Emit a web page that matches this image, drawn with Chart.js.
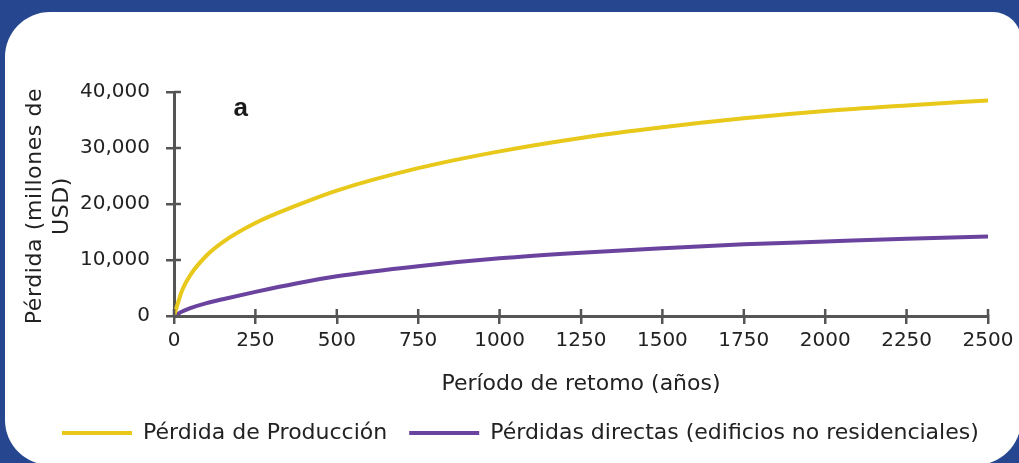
<!DOCTYPE html>
<html>
<head>
<meta charset="utf-8">
<script src="https://cdn.jsdelivr.net/npm/chart.js@4/dist/chart.umd.min.js"></script>
<style>
  html, body { margin: 0; padding: 0; background: #26478f; overflow: hidden; }
  .wrap { position: relative; width: 1019px; height: 463px; }
  .panel { position: absolute; left: 5px; top: 12px; width: 1016px; height: 453px; background: #fff; border-radius: 45px 28px 45px 45px; }
  .chart { position: absolute; left: 0; top: 0; width: 1019px; height: 463px; }
</style>
</head>
<body>
<div class="wrap">
  <div class="panel"></div>
  <div class="chart"><canvas id="c"></canvas></div>
</div>
<script>
// return period (years) and losses (million USD)
const periods = [0, 25, 50, 100, 150, 250, 375, 500, 750, 1000, 1250, 1500, 1750, 2000, 2250, 2500];
const production_loss = [0, 4600, 7300, 10800, 13200, 16600, 19700, 22400, 26400, 29400, 31800, 33700, 35300, 36600, 37600, 38500];
const direct_loss = [0, 800, 1400, 2300, 3000, 4300, 5800, 7100, 8900, 10300, 11300, 12100, 12800, 13300, 13800, 14200];
const series_names = ["Pérdida de Producción", "Pérdidas directas (edificios no residenciales)"];
const x_ticks = [0, 250, 500, 750, 1000, 1250, 1500, 1750, 2000, 2250, 2500];
const y_ticks = [0, 10000, 20000, 30000, 40000];
const x_title = "Período de retomo (años)";
const y_title = ["Pérdida (millones de", "USD)"];
const panel_label = "a";
const panel_label_at = [205, 37000];

const font_family = "'DejaVu Sans', sans-serif";
const text_color = "#222";
const axis_color = "#555";

const to_points = (values) => values.map((v, i) => ({ x: periods[i], y: v }));

// inner half of the crossing tick marks, the y title and the panel letter
const extras = {
  id: "extras",
  afterDraw(chart) {
    const { ctx, chartArea, scales } = chart;
    ctx.save();
    ctx.strokeStyle = axis_color;
    ctx.lineWidth = 2.5;
    x_ticks.forEach((t) => {
      const px = scales.x.getPixelForValue(t);
      ctx.beginPath();
      ctx.moveTo(px, chartArea.bottom);
      ctx.lineTo(px, chartArea.bottom - 7);
      ctx.stroke();
    });
    y_ticks.forEach((t) => {
      const py = scales.y.getPixelForValue(t);
      ctx.beginPath();
      ctx.moveTo(chartArea.left, py);
      ctx.lineTo(chartArea.left + 7, py);
      ctx.stroke();
    });

    ctx.fillStyle = "#1a1a1a";
    ctx.font = "bold 26px 'Liberation Sans', sans-serif";
    ctx.textAlign = "center";
    ctx.textBaseline = "middle";
    ctx.fillText(
      panel_label,
      scales.x.getPixelForValue(panel_label_at[0]),
      scales.y.getPixelForValue(panel_label_at[1])
    );

    ctx.fillStyle = text_color;
    ctx.font = "22px " + font_family;
    ctx.letterSpacing = "0.6px";
    const mid = (chartArea.top + chartArea.bottom) / 2;
    ctx.translate(35, mid + 2);
    ctx.rotate(-Math.PI / 2);
    ctx.fillText(y_title[0], 0, 0);
    ctx.fillText(y_title[1], 0, 27);
    ctx.restore();
  },
};

new Chart(document.getElementById("c"), {
  type: "line",
  data: {
    datasets: [
      {
        label: series_names[0],
        data: to_points(production_loss),
        borderColor: "#e8c81a",
        backgroundColor: "#e8c81a",
        borderWidth: 4,
        pointRadius: 0,
        cubicInterpolationMode: "monotone",
      },
      {
        label: series_names[1],
        data: to_points(direct_loss),
        borderColor: "#6a439f",
        backgroundColor: "#6a439f",
        borderWidth: 4,
        pointRadius: 0,
        cubicInterpolationMode: "monotone",
      },
    ],
  },
  plugins: [extras],
  options: {
    responsive: true,
    maintainAspectRatio: false,
    animation: false,
    layout: {
      padding: { left: 40, right: 0, top: 92, bottom: 9 },
    },
    plugins: {
      tooltip: { enabled: false },
      legend: {
        position: "bottom",
        align: "start",
        labels: {
          usePointStyle: true,
          pointStyle: "line",
          pointStyleWidth: 70,
          padding: 22,
          color: text_color,
          font: { family: font_family, size: 22 },
        },
      },
    },
    scales: {
      x: {
        type: "linear",
        min: 0,
        max: 2500,
        afterBuildTicks: (scale) => {
          scale.ticks = x_ticks.map((v) => ({ value: v }));
        },
        afterFit: (scale) => {
          scale.height = 84;
        },
        border: { color: axis_color, width: 3 },
        grid: {
          drawOnChartArea: false,
          drawTicks: true,
          tickLength: 8,
          color: axis_color,
          lineWidth: 2.5,
        },
        ticks: {
          padding: 5,
          color: text_color,
          font: { family: font_family, size: 20 },
          callback: (v) => String(v),
        },
        title: {
          display: true,
          text: x_title,
          color: text_color,
          font: { family: font_family, size: 22, lineHeight: 1 },
          padding: { top: 0, bottom: 5 },
        },
      },
      y: {
        min: 0,
        max: 40000,
        afterBuildTicks: (scale) => {
          scale.ticks = y_ticks.map((v) => ({ value: v }));
        },
        afterFit: (scale) => {
          scale.width = 174 - 40;
        },
        border: { color: axis_color, width: 3 },
        grid: {
          drawOnChartArea: false,
          drawTicks: true,
          tickLength: 8,
          color: axis_color,
          lineWidth: 2.5,
        },
        ticks: {
          padding: 16,
          color: text_color,
          font: { family: font_family, size: 20 },
          callback: (v) => v.toLocaleString("en-US"),
        },
      },
      // empty strip on the right so the plot ends where the figure's does
      right_gap: {
        position: "right",
        min: 0,
        max: 1,
        afterFit: (scale) => {
          scale.width = 31;
        },
        border: { display: false },
        grid: { display: false },
        ticks: { display: false },
      },
    },
  },
});
</script>
</body>
</html>
